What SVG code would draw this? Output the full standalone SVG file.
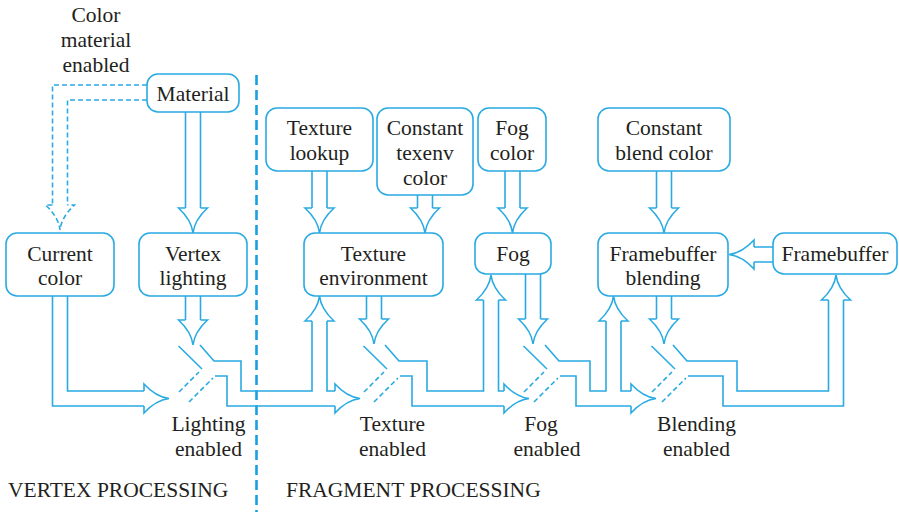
<svg xmlns="http://www.w3.org/2000/svg" width="899" height="512" viewBox="0 0 899 512">
<style>
.box{fill:#fff;stroke:#29abe2;stroke-width:1.6}
.t{font-family:"Liberation Serif","Times New Roman",serif;font-size:21.5px;fill:#231f20;text-anchor:middle}
.tl{font-family:"Liberation Serif","Times New Roman",serif;font-size:21.5px;fill:#231f20;text-anchor:start}
#connectors{fill:none;stroke:#29abe2;stroke-width:1.6;stroke-linejoin:miter}
.dash{stroke-dasharray:5 3}
.sep{fill:none;stroke:#1a9fe0;stroke-width:2.6;stroke-dasharray:10 5}
</style>
<defs>
<path id="hd" d="M-7.5,-25 H-14.5 Q-1.5,-13 0,0 Q1.5,-13 14.5,-25 H7.5"/>
<g id="sw">
<path d="M-23.5,-23 L0,0"/>
<path class="dash" d="M-23,23 L-3,3 M-13,33 L11,9"/>
</g>
</defs>

<path class="sep" d="M256.5,75 V512"/>

<g id="connectors">
<!-- color material (dashed) -->
<path class="dash" d="M147,85 H52.5 V205 M147,100 H67.5 V205"/>
<use href="#hd" class="dash" transform="translate(60,230)"/>
<!-- material -> vertex lighting -->
<path d="M185.5,112 V208 M200.5,112 V208"/>
<use href="#hd" transform="translate(193,233)"/>
<!-- vertex lighting -> lighting switch -->
<path d="M185.5,296 V320 M200.5,296 V320"/>
<use href="#hd" transform="translate(193,345)"/>
<!-- current color -> lighting switch -->
<path d="M52.5,296 V406 H144 M67.5,296 V391 H144"/>
<use href="#hd" transform="translate(169,398.5) rotate(-90)"/>
<use href="#sw" transform="translate(202,369)"/>
<!-- lighting output -->
<path d="M200,345 L214,361 H241 V391 H312 V321 M327,321 V391 H335 M215,376 H227 V406 H335"/>
<use href="#hd" transform="translate(319.5,296) rotate(180)"/>
<use href="#hd" transform="translate(360,398.5) rotate(-90)"/>
<!-- texture lookup / constant texenv -> texture env -->
<path d="M312,171 V208 M327,171 V208"/>
<use href="#hd" transform="translate(319.5,233)"/>
<path d="M417.5,195 V208 M432.5,195 V208"/>
<use href="#hd" transform="translate(425,233)"/>
<!-- texture env -> texture switch -->
<path d="M366.5,296 V319 M381.5,296 V319"/>
<use href="#hd" transform="translate(374,344)"/>
<use href="#sw" transform="translate(387,369)"/>
<!-- texture output -->
<path d="M385,345 L399,361 H427 V391 H483.5 V300 M498.5,300 V391 H504 M400,376 H412 V406 H504"/>
<use href="#hd" transform="translate(491,275) rotate(180)"/>
<use href="#hd" transform="translate(529,398.5) rotate(-90)"/>
<!-- fog color -> fog -->
<path d="M505,171 V208 M520,171 V208"/>
<use href="#hd" transform="translate(512.5,233)"/>
<!-- fog -> fog switch -->
<path d="M525.5,274 V319 M540.5,274 V319"/>
<use href="#hd" transform="translate(533,344)"/>
<use href="#sw" transform="translate(547,369)"/>
<!-- fog output -->
<path d="M545,345 L559,361 H590 V391 H606 V321 M621,321 V391 H631 M560,376 H576 V406 H631"/>
<use href="#hd" transform="translate(613.5,296) rotate(180)"/>
<use href="#hd" transform="translate(656,398.5) rotate(-90)"/>
<!-- constant blend color -> fb blending -->
<path d="M656.5,171 V208 M671.5,171 V208"/>
<use href="#hd" transform="translate(664,233)"/>
<!-- framebuffer -> fb blending -->
<path d="M773,247 H754 M773,262 H754"/>
<use href="#hd" transform="translate(729,254.5) rotate(90)"/>
<!-- fb blending -> blending switch -->
<path d="M656.5,296 V319 M671.5,296 V319"/>
<use href="#hd" transform="translate(664,344)"/>
<use href="#sw" transform="translate(675,369)"/>
<!-- blending output -->
<path d="M673,345 L687,361 H737 V391 H828.5 V300 M688,376 H723 V406 H843.5 V300"/>
<use href="#hd" transform="translate(836,275) rotate(180)"/>
</g>

<g id="material"><rect class="box" x="147" y="74" width="92" height="38" rx="11"/><text class="t" x="193" y="101">Material</text></g>
<g id="current-color"><rect class="box" x="6" y="233" width="108" height="63" rx="11"/><text class="t" x="60" y="261">Current</text><text class="t" x="60" y="285">color</text></g>
<g id="vertex-lighting"><rect class="box" x="139" y="233" width="108" height="63" rx="11"/><text class="t" x="193" y="261">Vertex</text><text class="t" x="193" y="285">lighting</text></g>
<g id="texture-lookup"><rect class="box" x="266" y="108" width="107" height="63" rx="11"/><text class="t" x="319.5" y="135">Texture</text><text class="t" x="319.5" y="160">lookup</text></g>
<g id="constant-texenv-color"><rect class="box" x="377" y="108" width="96" height="87" rx="11"/><text class="t" x="425" y="135">Constant</text><text class="t" x="425" y="160">texenv</text><text class="t" x="425" y="185">color</text></g>
<g id="fog-color"><rect class="box" x="478" y="108" width="68" height="63" rx="11"/><text class="t" x="512" y="135">Fog</text><text class="t" x="512" y="160">color</text></g>
<g id="constant-blend-color"><rect class="box" x="598" y="108" width="132" height="63" rx="11"/><text class="t" x="664" y="135">Constant</text><text class="t" x="664" y="160">blend color</text></g>
<g id="texture-environment"><rect class="box" x="304" y="233" width="139" height="63" rx="11"/><text class="t" x="373.5" y="261">Texture</text><text class="t" x="373.5" y="285">environment</text></g>
<g id="fog"><rect class="box" x="475" y="233" width="76" height="41" rx="11"/><text class="t" x="513" y="261">Fog</text></g>
<g id="framebuffer-blending"><rect class="box" x="598" y="233" width="130" height="63" rx="11"/><text class="t" x="663" y="261">Framebuffer</text><text class="t" x="663" y="285">blending</text></g>
<g id="framebuffer"><rect class="box" x="773" y="233" width="124" height="41" rx="11"/><text class="t" x="835" y="261">Framebuffer</text></g>

<g id="labels">
<text class="t" x="96" y="22">Color</text>
<text class="t" x="96" y="47">material</text>
<text class="t" x="96" y="72">enabled</text>
<text class="t" x="208.5" y="431">Lighting</text>
<text class="t" x="208.5" y="456">enabled</text>
<text class="t" x="392.5" y="431">Texture</text>
<text class="t" x="392.5" y="456">enabled</text>
<text class="t" x="541" y="431">Fog</text>
<text class="t" x="547" y="456">enabled</text>
<text class="t" x="696.5" y="431">Blending</text>
<text class="t" x="696.5" y="456">enabled</text>
<text class="tl" x="8" y="497">VERTEX PROCESSING</text>
<text class="tl" x="286" y="497">FRAGMENT PROCESSING</text>
</g>
</svg>
